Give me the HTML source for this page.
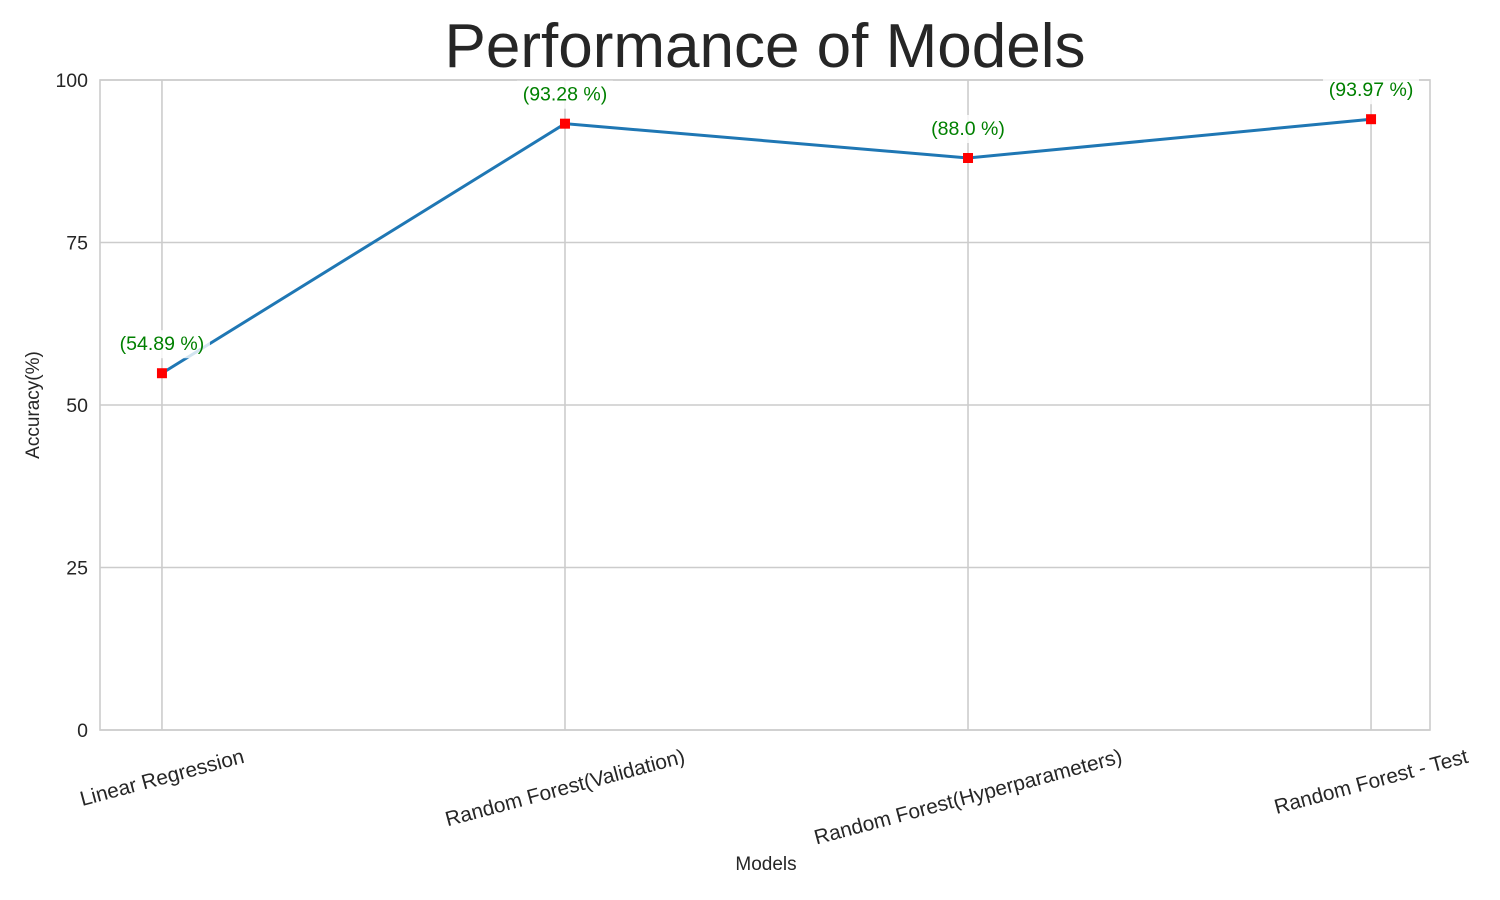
<!DOCTYPE html>
<html><head><meta charset="utf-8"><style>
body{margin:0;background:#fff;}
svg{display:block;font-family:"Liberation Sans",Arial,sans-serif;}
</style></head><body>
<svg id="chart" width="1500" height="900">
<text x="765" y="67" text-anchor="middle" font-size="62" fill="#262626">Performance of Models</text>
<g id="grid"></g><g id="series"></g><g id="labels"></g>
<text x="766" y="870" text-anchor="middle" font-size="19" fill="#262626">Models</text>
<text transform="translate(39,405) rotate(-90)" text-anchor="middle" font-size="19" fill="#262626">Accuracy(%)</text>
</svg>
<script>
const categories=["Linear Regression","Random Forest(Validation)","Random Forest(Hyperparameters)","Random Forest - Test"];
const accuracy=[54.89,93.28,88.0,93.97];
const valueLabels=["(54.89 %)","(93.28 %)","(88.0 %)","(93.97 %)"];
const yTicks=[0,25,50,75,100];
const L=100,R=1430,T=80,B=730;
const NS="http://www.w3.org/2000/svg";
const xs=i=>L+1.5+(i+0.15)/3.3*(R-L);
const ys=v=>B-v/100*(B-T);
function mk(tag,attrs,parent,text){const e=document.createElementNS(NS,tag);for(const k in attrs)e.setAttribute(k,attrs[k]);if(text!=null)e.textContent=text;parent.appendChild(e);return e;}
const grid=document.getElementById('grid'),ser=document.getElementById('series'),lab=document.getElementById('labels');
yTicks.forEach(t=>{
 const l=mk('line',{x1:L,x2:R,y1:ys(t),y2:ys(t),stroke:'#cccccc','stroke-width':1.6},grid);
 
 
 const tx=mk('text',{x:L-12,y:ys(t)+7,'text-anchor':'end','font-size':19.5,fill:'#262626'},grid,String(t));
 
 
});
const rad=15*Math.PI/180;
categories.forEach((c,i)=>{
 const l=mk('line',{x1:xs(i),x2:xs(i),y1:T,y2:B,stroke:'#cccccc','stroke-width':1.6},grid);
 
 
 const tx=mk('text',{'text-anchor':'middle','font-size':20.8,fill:'#262626'},grid,c);
 
 
 const w=tx.getComputedTextLength();
 const bh=w*Math.sin(rad)+20*Math.cos(rad);
 const cy=746+bh/2;
 tx.setAttribute('transform',`translate(${xs(i)},${cy}) rotate(-15) translate(0,7)`);
});
const fr=mk('rect',{x:L,y:T,width:R-L,height:B-T,fill:'none',stroke:'#cccccc','stroke-width':1.6},grid);


const pl=mk('polyline',{points:accuracy.map((v,i)=>xs(i)+','+ys(v)).join(' '),fill:'none',stroke:'#1f77b4','stroke-width':3},ser);


accuracy.forEach((v,i)=>{
 const m=mk('rect',{x:xs(i)-5,y:ys(v)-5,width:10,height:10,fill:'#ff0000'},ser);
 
 
 const cx=xs(i),cy=ys(v)-23;
 const bg=mk('rect',{x:cx-48,y:cy-20,width:96,height:28,fill:'#fff','fill-opacity':0.8},lab);
 
 
 const t=mk('text',{x:cx,y:cy,'text-anchor':'middle','font-size':19.5,fill:'#008000'},lab,valueLabels[i]);
 
 
});
</script>
</body></html>
